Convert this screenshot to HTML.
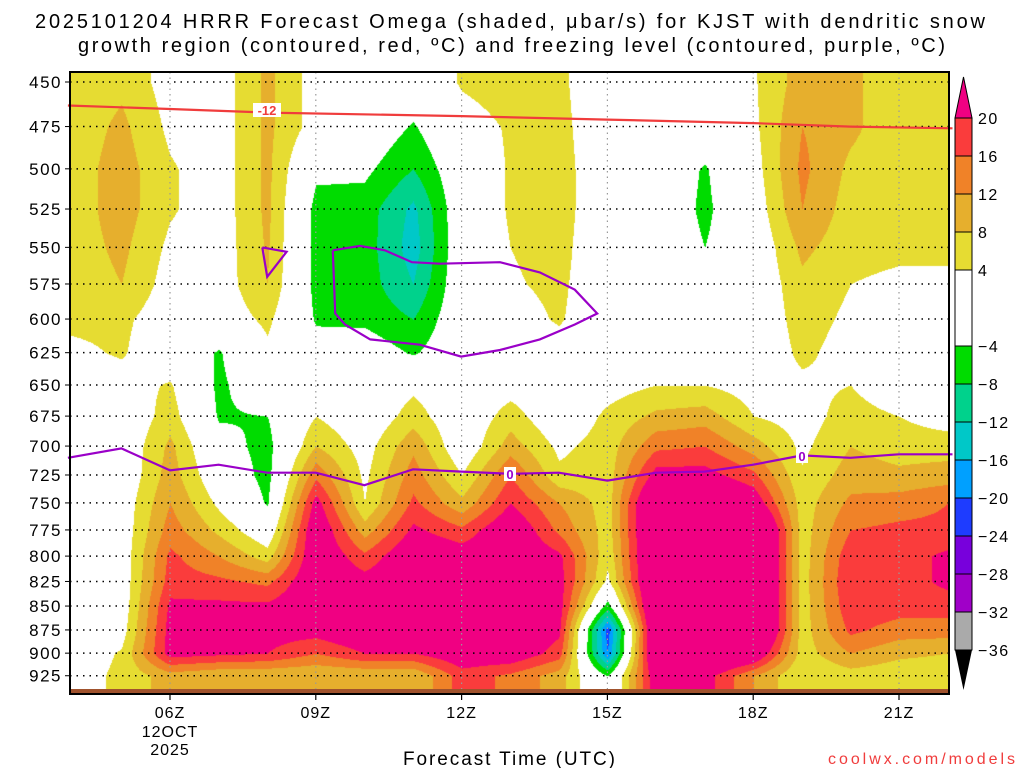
<!DOCTYPE html>
<html><head><meta charset="utf-8">
<style>
body{margin:0;background:#fff;width:1024px;height:768px;overflow:hidden;position:relative;font-family:"Liberation Sans","DejaVu Sans",sans-serif}
canvas,svg{position:absolute;left:0;top:0}
</style></head><body>
<canvas id="cv" width="1024" height="768"></canvas>
<svg id="sv" width="1024" height="768"></svg>
<script>
const levels=[450,475,500,525,550,575,600,625,650,675,700,725,750,775,800,825,850,875,900,925];
const hours=[4,5,6,7,8,9,10,11,12,13,14,15,16,17,18,19,20,21,22];
const omegaByHour=[
[5,5.5,6,6,6,5.5,5,3,0,0,0,0,0,0,0,0,0,0,1,2],
[7,9,10,10,9,8,5,4.5,2,0,0,0,1,1,1,1,1,2,4.5,5],
[2,3,4.5,4.5,3,2,1,0,4.5,6,9,10,12,14,17,18,21,22,22,10],
[1.5,1.5,1.5,1.5,1.5,1.5,1,-4.5,-5,-4.5,-2,0,3,7,12,17,21,22,21,8],
[9,9,9,9,8.5,8,5,3,0,-4,-5.5,-5.5,-4.5,0,6,15,21,22,20,8],
[2,2,-3,-5.5,-5.5,-5.5,-4.5,-2,0,4,8,15,22,25,25,25,25,22,16,8],
[0,0,-3,-6,-6,-6,-5,-1,0,0,2,3,4,10,17,22,25,25,20,8],
[0,-4.5,-8,-13,-14,-12,-8,-4.5,3,6,11,14,17,21,25,25,25,24,20,8],
[4.5,2,0,0,0,0,0,0,0,0,0,4,9,17,23,25,25,25,24,18],
[6,4.5,4.5,4.5,4,3.5,2,0,2,6,10,16,20,25,25,25,25,25,24,15],
[5,5.5,6,6,5.5,5,4.5,2,0,0,3,5,12,15,21,22,22,21,18,10],
[0,0,0,0,0,0,0,0,2,5,6,6,6,6,5,3,-6,-22,-20,-4],
[0,0,0,0,0,0,0,0,4,9,15,22,30,30,30,30,30,30,30,24],
[0,0,-4.5,-5,-4,0,0,0,4,10,16,22,30,30,30,30,30,30,30,22],
[3.5,3,2,1,0,0,0,0,2,4,10,17,24,35,35,35,35,35,26,12],
[10,12,13,12,9,7,6,5,3,2,3,4.5,6,6,6,6,6,6,6,4],
[9,9,7,6,5.5,4,3,2,4,6,8,10,13,16,19,20,19,17,12,6],
[5,5,5,5,5,3,0,0,0,4,6,9,14,17,18,18,18,14,9,5],
[5,5,5,5,5,3,0,0,0,2,6,10,16,17,21,21,18,14,8,5]];
const m12Hours=[3.9,6,8,12,15,18,20,22.1];
const m12Pres=[463,465,467,469,471,473,475,476];
const frzHours=[3.9,5,6,7,8,9,10,11,12,13,14,15,16,17,18,19,20,21,22.1];
const frzPres=[710,702,721,716,723,723,734,720,722,724,723,730,723,722,716,708,710,707,707];
const loopHours=[9.35,9.91,10.42,10.98,11.56,12.79,13.61,14.33,14.79,14.33,13.61,12.79,11.99,11.14,10.12,9.6,9.4,9.35];
const loopPres=[552,549,552,560,561,560,567,579,596,604,615,623,628,619,615,604,596,552];
const smallHours=[7.9,8.4,8.0,7.9];
const smallPres=[550,553,570,550];
const cbLevels=[20,16,12,8,4,-4,-8,-12,-16,-20,-24,-28,-32,-36];
const cbColors=["#fa3c3c","#f08228","#e6af2d","#e6dc32","#ffffff","#00dc00","#00d28c","#00c8c8","#00a0ff","#1e3cff","#7800dc","#a000c8","#aaaaaa"];
const xTicks=[6,9,12,15,18,21];

const X0=70,X1=949,Y0=72,Y1=690;
const xs=h=>170+(h-6)*48.6;
const ys=p=>82+824*Math.log(p/450);
function colorFor(v){
 if(v>=20)return[240,0,130];if(v>=16)return[250,60,60];if(v>=12)return[240,130,40];
 if(v>=8)return[230,175,45];if(v>=4)return[230,220,50];if(v>-4)return null;
 if(v>-8)return[0,220,0];if(v>-12)return[0,210,140];if(v>-16)return[0,200,200];
 if(v>-20)return[0,160,255];if(v>-24)return[30,60,255];if(v>-28)return[120,0,220];
 if(v>-32)return[160,0,200];return[170,170,170];}
const cv=document.getElementById('cv'),ctx=cv.getContext('2d');
const img=ctx.createImageData(X1-X0,Y1-Y0);
const lvY=levels.map(ys),hX=hours.map(xs);
for(let py=Y0;py<Y1;py++){
 let r=0;while(r<levels.length-2&&lvY[r+1]<py)r++;
 let fy=(py-lvY[r])/(lvY[r+1]-lvY[r]);fy=Math.max(0,Math.min(1,fy));
 for(let px=X0;px<X1;px++){
  let c=0;while(c<hours.length-2&&hX[c+1]<px)c++;
  let fx=(px-hX[c])/(hX[c+1]-hX[c]);fx=Math.max(0,Math.min(1,fx));
  const a=omegaByHour[c][r]*(1-fy)+omegaByHour[c][r+1]*fy;
  const b=omegaByHour[c+1][r]*(1-fy)+omegaByHour[c+1][r+1]*fy;
  const col=colorFor(a*(1-fx)+b*fx);
  const i=((py-Y0)*(X1-X0)+(px-X0))*4;
  if(col){img.data[i]=col[0];img.data[i+1]=col[1];img.data[i+2]=col[2];img.data[i+3]=255;}
 }}
ctx.putImageData(img,X0,Y0);

const NS='http://www.w3.org/2000/svg',sv=document.getElementById('sv');
function el(tag,at,txt){const e=document.createElementNS(NS,tag);for(const k in at)e.setAttribute(k,at[k]);if(txt!==undefined)e.textContent=txt;sv.appendChild(e);return e;}
levels.forEach(p=>{
 const g=el('line',{x1:X0,x2:X1,y1:ys(p),y2:ys(p),stroke:'#000','stroke-width':1.5,'stroke-dasharray':'1.5 5'});
 
 
 const t=el('text',{x:62,y:ys(p)+6,'text-anchor':'end','font-size':17,'letter-spacing':'1.5',fill:'#000'},String(p));
 
 
 el('line',{x1:X0-5,x2:X0,y1:ys(p),y2:ys(p),stroke:'#000','stroke-width':1});
});
xTicks.forEach(h=>{
 const g=el('line',{x1:xs(h),x2:xs(h),y1:Y0,y2:690,stroke:'#999','stroke-width':1.2,'stroke-dasharray':'1.5 4'});
 
 
 el('line',{x1:xs(h),x2:xs(h),y1:694,y2:700,stroke:'#000','stroke-width':1.2});
 const t=el('text',{x:xs(h),y:718,'text-anchor':'middle','font-size':16,'letter-spacing':'1'},(h<10?'0':'')+h+'Z');
 
 
});
el('text',{x:xs(6),y:737,'text-anchor':'middle','font-size':16,'letter-spacing':'1'},'12OCT');
el('text',{x:xs(6),y:755,'text-anchor':'middle','font-size':16,'letter-spacing':'1'},'2025');
const gb=el('rect',{x:X0,y:689,width:X1-X0,height:5,fill:'#a0522d'});


function poly(hs,ps,color,name){
 const d=hs.map((h,i)=>(i?'L':'M')+xs(h).toFixed(1)+','+ys(ps[i]).toFixed(1)).join(' ');
 const p=el('path',{d:d,fill:'none',stroke:color,'stroke-width':2.2});
 
 
}
poly(m12Hours,m12Pres,'#f03c3c','minus12-contour');
poly(frzHours,frzPres,'#9a00c8','freezing-level-contour');
poly(loopHours,loopPres,'#9a00c8','freezing-level-loop');
poly(smallHours,smallPres,'#9a00c8','freezing-level-small-loop');
function lbl(x,y,t,c,name){el('rect',{x:x-(t.length*4+2),y:y-7,width:t.length*8+4,height:14,fill:'#fff'});
 const e=el('text',{x:x,y:y+5,'text-anchor':'middle','font-size':13,'font-weight':'bold',fill:c},t);
 
 }
lbl(267,110,'-12','#f03c3c','minus12-label');
lbl(510,474,'0','#9a00c8','freezing-label-1');
lbl(802,456,'0','#9a00c8','freezing-label-2');
const fr=el('rect',{x:X0,y:Y0,width:X1-X0,height:694-Y0,fill:'none',stroke:'#000','stroke-width':2});


const cbY=l=>118+(20-l)/56*532;
const cbx=955,cbw=17;
el('polygon',{points:`${cbx},118 ${cbx+cbw/2},77 ${cbx+cbw},118`,fill:'#f00082',stroke:'#000'});
cbColors.forEach((c,i)=>{const r=el('rect',{x:cbx,y:cbY(cbLevels[i]),width:cbw,height:cbY(cbLevels[i+1])-cbY(cbLevels[i]),fill:c,stroke:'#000','stroke-width':1});
 
 });
el('polygon',{points:`${cbx},650 ${cbx+cbw/2},690 ${cbx+cbw},650`,fill:'#000'});
cbLevels.forEach(l=>{const t=el('text',{x:978,y:cbY(l)+6,'font-size':16,'letter-spacing':'1.5'},(l<0?'\u2212':'')+Math.abs(l));
 
 });
el('text',{x:35,y:28,'font-size':20,textLength:950,lengthAdjust:'spacing',},'2025101204 HRRR Forecast Omega (shaded, \u03bcbar/s) for KJST with dendritic snow');
el('text',{x:78,y:52,'font-size':20,textLength:867,lengthAdjust:'spacing',},'growth region (contoured, red, \u00baC) and freezing level (contoured, purple, \u00baC)');
el('text',{x:403,y:765,'font-size':19,textLength:212,lengthAdjust:'spacing',},'Forecast Time (UTC)');
el('text',{x:828,y:764,'font-size':16,fill:'#f03c3c',textLength:187,lengthAdjust:'spacing',},'coolwx.com/models');
</script>
</body></html>
